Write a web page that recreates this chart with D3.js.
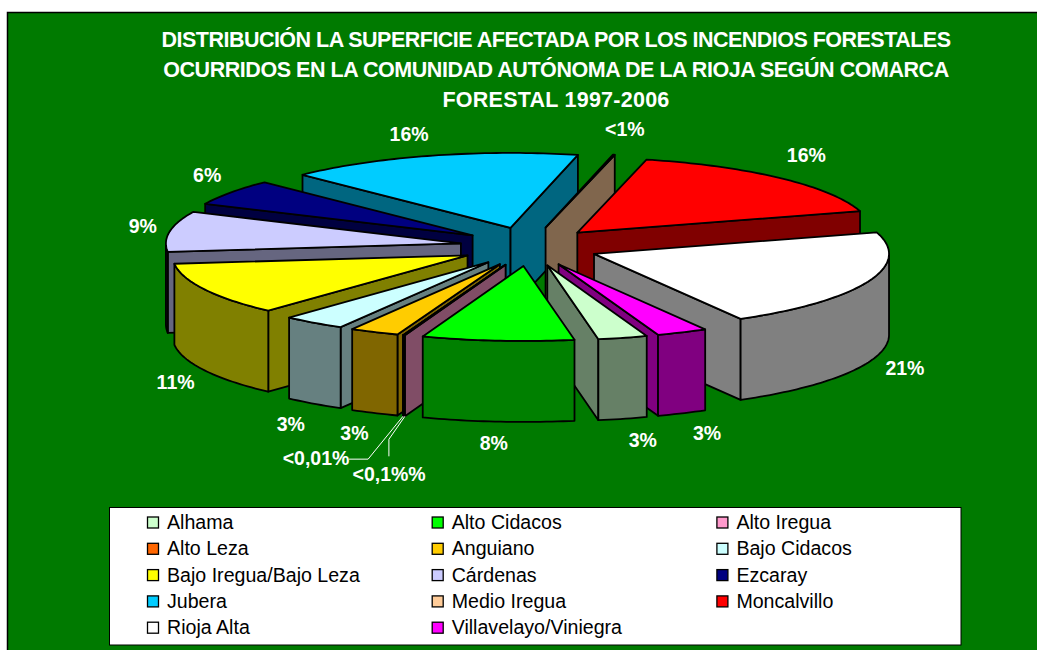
<!DOCTYPE html>
<html>
<head>
<meta charset="utf-8">
<script src="https://cdn.jsdelivr.net/npm/d3@7"></script>
<style>
html, body { margin: 0; padding: 0; background: #fff; }
svg { display: block; }
text { font-family: "Liberation Sans", Arial, sans-serif; }
</style>
</head>
<body>
<svg id="chart" width="1037" height="650"></svg>
<script>
// Data, in slice order (clockwise)
const comarcas = ["Alhama", "Alto Cidacos", "Alto Iregua", "Alto Leza", "Anguiano", "Bajo Cidacos",
    "Bajo Iregua/Bajo Leza", "Cárdenas", "Ezcaray", "Jubera", "Medio Iregua", "Moncalvillo",
    "Rioja Alta", "Villavelayo/Viniegra"];
const percentages = [2.7, 8.3, 0.09, 0.01, 2.7, 3.45, 11.4, 8.7, 5.6, 16.1, 0.1, 16.6, 21.3, 2.8];
const labels = ["3%", "8%", "<0,1%%", "<0,01%", "3%", "3%", "11%", "9%", "6%", "16%", "<1%", "16%", "21%", "3%"];
const colors = ["#CCFFCC", "#00FF00", "#FF99CC", "#FF6600", "#FFCC00", "#CCFFFF", "#FFFF00", "#CCCCFF",
    "#000080", "#00CCFF", "#FFCC99", "#FF0000", "#FFFFFF", "#FF00FF"];
const titleLines = ["DISTRIBUCIÓN LA SUPERFICIE AFECTADA POR LOS INCENDIOS FORESTALES",
    "OCURRIDOS EN LA COMUNIDAD AUTÓNOMA DE LA RIOJA SEGÚN COMARCA",
    "FORESTAL 1997-2006"];
// back to front
const drawOrder = ["Jubera", "Medio Iregua", "Moncalvillo", "Ezcaray", "Cárdenas", "Rioja Alta",
    "Bajo Iregua/Bajo Leza", "Bajo Cidacos", "Villavelayo/Viniegra", "Anguiano", "Alto Leza",
    "Alto Iregua", "Alhama", "Alto Cidacos"];

// pie geometry
const cx = 529.5, cy = 246.6;
const rx = 295, ry = 75;
const explodeX = 69.5, explodeY = 19.4;
const depth = 81;
const startDeg = 160.3; // d3 angle of the Alhama edge

// label nudges from the rim of each slice, same order as comarcas
const labelNudge = [[20, 102], [-4, 102], [-15, 139], [-87, 123], [-20, 101], [-23, 101], [-29, 93],
    [-27, -5], [-24, -17], [-21, -22], [11, -26], [26, -23], [37, 86], [25, 101]];

// title letter spacing per line, the original is tight on the two long lines
const titleSpacing = [-0.52, -0.46, 0.25];

const svg = d3.select("#chart");
const green = "#007A00";

svg.append("rect").attr("x", 7.5).attr("y", 12.5).attr("width", 1040).attr("height", 650)
    .attr("fill", green).attr("stroke", "#000").attr("stroke-width", 1.5);

svg.append("g").selectAll("text")
    .data(titleLines)
    .enter().append("text")
    .attr("x", 556)
    .attr("y", function(d, i) { return 47 + i * 30; })
    .attr("text-anchor", "middle")
    .attr("fill", "#fff")
    .attr("font-weight", "bold")
    .attr("font-size", 21.5)
    .attr("letter-spacing", function(d, i) { return titleSpacing[i]; })
    .text(function(d) { return d; });

const pie = d3.pie().sort(null).value(function(d) { return d; })
    .startAngle(startDeg * Math.PI / 180)
    .endAngle((startDeg + 360) * Math.PI / 180);

// d3 measures from 12 o'clock, shift so 0 points right
const slices = pie(percentages).map(function(d, i) {
    const t0 = d.startAngle - Math.PI / 2;
    const t1 = d.endAngle - Math.PI / 2;
    const mid = (t0 + t1) / 2;
    return {
        name: comarcas[i],
        color: colors[i],
        label: labels[i],
        nudge: labelNudge[i],
        t0: t0,
        t1: t1,
        mid: mid,
        ax: cx + explodeX * Math.cos(mid),
        ay: cy + explodeY * Math.sin(mid)
    };
});

const line = d3.line();

function rim(s, t, drop) {
    return [s.ax + rx * Math.cos(t), s.ay + ry * Math.sin(t) + drop];
}

function arcPoints(s, t0, t1, drop) {
    const n = Math.max(2, Math.ceil((t1 - t0) / 0.02));
    return d3.range(n + 1).map(function(k) {
        return rim(s, t0 + (t1 - t0) * k / n, drop);
    });
}

// front part of the rim, angles where sin > 0
function frontRanges(s) {
    const ranges = [];
    for (let k = -1; k < 3; k++) {
        const lo = Math.max(s.t0, k * 2 * Math.PI);
        const hi = Math.min(s.t1, k * 2 * Math.PI + Math.PI);
        if (hi > lo) ranges.push([lo, hi]);
    }
    return ranges;
}

function wallShade(color) {
    const c = d3.rgb(color);
    return d3.rgb(c.r * 0.5, c.g * 0.5, c.b * 0.5).formatHex();
}

const pieGroup = svg.append("g")
    .attr("stroke", "#000")
    .attr("stroke-width", 1.8)
    .attr("stroke-linejoin", "round");

drawOrder.forEach(function(name) {
    const s = slices.find(function(d) { return d.name == name; });
    const wall = wallShade(s.color);
    const g = pieGroup.append("g");

    function cutWall(t) {
        const p = rim(s, t, 0);
        const q = rim(s, t, depth);
        g.append("path").attr("fill", wall)
            .attr("d", line([[s.ax, s.ay], p, q, [s.ax, s.ay + depth]]) + "Z");
    }
    if (Math.cos(s.t0) < 0) cutWall(s.t0);
    if (Math.cos(s.t1) > 0) cutWall(s.t1);

    frontRanges(s).forEach(function(r) {
        const top = arcPoints(s, r[0], r[1], 0);
        const bottom = arcPoints(s, r[0], r[1], depth).reverse();
        g.append("path").attr("fill", wall).attr("d", line(top.concat(bottom)) + "Z");
    });

    const face = [[s.ax, s.ay]].concat(arcPoints(s, s.t0, s.t1, 0));
    g.append("path").attr("fill", s.color).attr("d", line(face) + "Z");
});

// data labels
svg.append("g").selectAll("text")
    .data(slices)
    .enter().append("text")
    .attr("x", function(d) { return rim(d, d.mid, 0)[0] + d.nudge[0]; })
    .attr("y", function(d) { return rim(d, d.mid, 0)[1] + d.nudge[1] + 7; })
    .attr("text-anchor", "middle")
    .attr("fill", "#fff")
    .attr("font-weight", "bold")
    .attr("font-size", 19.5)
    .text(function(d) { return d.label; });

// leader lines for the two tiny slices
const iregua = slices[2], leza = slices[3];
const iCorner = rim(iregua, iregua.t0, depth);
const lCorner = rim(leza, leza.t0, depth);
const leaders = [
    [iCorner, [iCorner[0] - 16, iCorner[1] + 23], [iCorner[0] - 16, iCorner[1] + 40]],
    [lCorner, [lCorner[0] - 35, lCorner[1] + 43], [lCorner[0] - 54, lCorner[1] + 43]]
];
svg.append("g").selectAll("path")
    .data(leaders)
    .enter().append("path")
    .attr("fill", "none")
    .attr("stroke", "#fff")
    .attr("stroke-width", 1)
    .attr("d", function(d) { return line(d); });

// legend
const legendX = 147.5, legendY = 515, rowH = 26.3, colW = 284.7;
svg.append("rect").attr("x", 109.5).attr("y", 507.5).attr("width", 851.5).attr("height", 137.5)
    .attr("fill", "#fff").attr("stroke", "#000").attr("stroke-width", 1);

const entries = svg.append("g").selectAll("g")
    .data(comarcas)
    .enter().append("g")
    .attr("transform", function(d, i) {
        return "translate(" + (legendX + (i % 3) * colW) + "," + (legendY + Math.floor(i / 3) * rowH) + ")";
    });
entries.append("rect")
    .attr("y", 2).attr("width", 11).attr("height", 11)
    .attr("fill", function(d, i) { return colors[i]; })
    .attr("stroke", "#000").attr("stroke-width", 1.3);
entries.append("text")
    .attr("x", 19.5).attr("y", 14)
    .attr("font-size", 19.6)
    .attr("fill", "#000")
    .text(function(d) { return d; });
</script>
</body>
</html>
